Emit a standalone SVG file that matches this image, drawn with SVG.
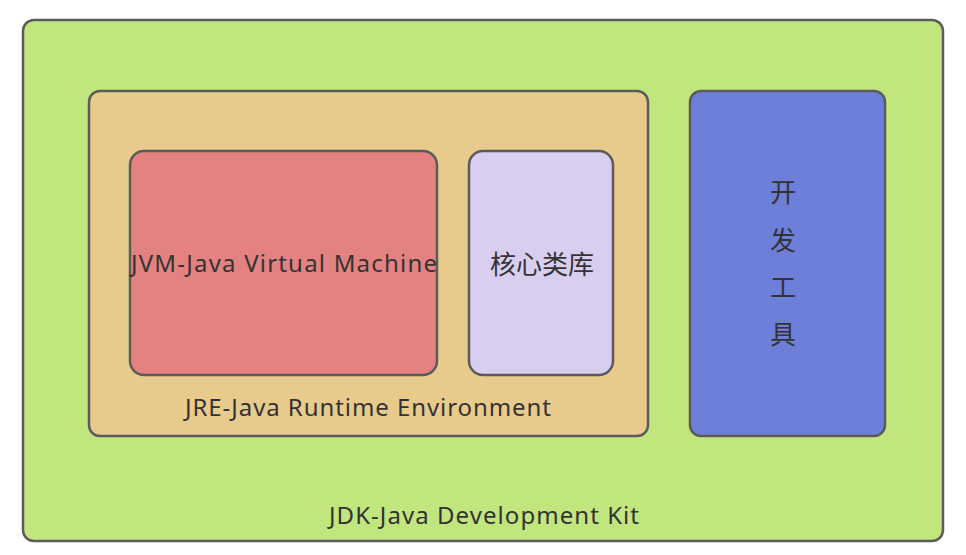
<svg xmlns="http://www.w3.org/2000/svg" width="966" height="555" viewBox="0 0 966 555">
<style>
.box{stroke:#5b5b5b;stroke-width:2.5}
.t{font-family:"Noto Sans","Noto Sans CJK SC",sans-serif;font-size:24px;fill:#333;text-anchor:middle}
.c{font-family:"Noto Sans CJK SC",sans-serif;font-size:26px;fill:#333;text-anchor:middle}
</style>
<rect width="966" height="555" fill="#fff"/>
<g id="jdk">
<rect class="box" x="23" y="20" width="920" height="521" rx="11" fill="#c2e67e"/>
<text class="t" x="484" y="524" textLength="310" lengthAdjust="spacing">JDK-Java Development Kit</text>
</g>
<g id="jre">
<rect class="box" x="89" y="91" width="559" height="345" rx="11" fill="#e8cb8c"/>
<text class="t" x="368" y="416" textLength="366" lengthAdjust="spacing">JRE-Java Runtime Environment</text>
</g>
<g id="jvm">
<rect class="box" x="130" y="151" width="307" height="224" rx="14" fill="#e48282"/>
<text class="t" x="284" y="272" textLength="306" lengthAdjust="spacing">JVM-Java Virtual Machine</text>
</g>
<g id="core">
<rect class="box" x="469" y="151" width="144" height="224" rx="14" fill="#d9cdf0"/>
<text class="c" x="542" y="274">核心类库</text>
</g>
<g id="tools">
<rect class="box" x="690" y="91" width="195" height="345" rx="11" fill="#6d7fd9"/>
<text class="c" x="783" y="202">开</text>
<text class="c" x="783" y="250">发</text>
<text class="c" x="783" y="297">工</text>
<text class="c" x="783" y="344">具</text>
</g>
<g id="connectors"/>
</svg>
